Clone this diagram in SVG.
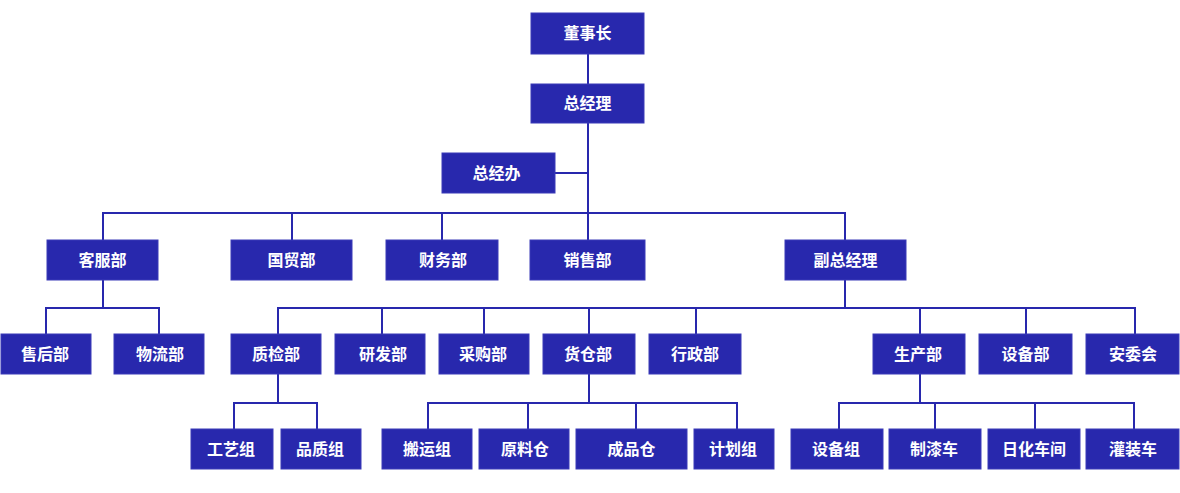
<svg xmlns="http://www.w3.org/2000/svg" width="1180" height="493" viewBox="0 0 1180 493">
<style>
.n rect{fill:#2828ad;stroke:#3a3ab8;stroke-width:1}
.n text{fill:#fff;font-family:"Noto Sans CJK SC","Noto Sans",sans-serif;font-size:16px;font-weight:600;text-anchor:middle;dominant-baseline:central}
#connectors path{fill:none;stroke:#2828ad;stroke-width:2}
</style>
<rect width="1180" height="493" fill="#fff"/>
<g id="connectors">
<path d="M588 54V84"/>
<path d="M588 123V213"/>
<path d="M555 173H588"/>
<path d="M103 240V213H845V240"/>
<path d="M292 213V240M442 213V240M588 213V240"/>
<path d="M103 280V308"/>
<path d="M46 334V308H159V334"/>
<path d="M845 280V308"/>
<path d="M278 334V308H1135V334"/>
<path d="M382 308V334M484 308V334M589 308V334M696 308V334M920 308V334M1026 308V334"/>
<path d="M278 374V403"/>
<path d="M234 429V403H317V429"/>
<path d="M589 374V403"/>
<path d="M428 429V403H737V429"/>
<path d="M528 403V429M636 403V429"/>
<path d="M920 374V403"/>
<path d="M839 429V403H1134V429"/>
<path d="M935 403V429M1035 403V429"/>
</g>
<g id="n-dsz" class="n"><rect x="531" y="13" width="113" height="41"/><text x="587.5" y="31.5">董事长</text></g>
<g id="n-zjl" class="n"><rect x="531" y="84" width="113" height="39"/><text x="587.5" y="102">总经理</text></g>
<g id="n-zjb" class="n"><rect x="442" y="153" width="113" height="40"/><text x="496.5" y="171.5">总经办</text></g>
<g id="n-kfb" class="n"><rect x="47" y="240" width="111" height="40"/><text x="102.5" y="258.5">客服部</text></g>
<g id="n-gmb" class="n"><rect x="231" y="240" width="121" height="40"/><text x="291.5" y="258.5">国贸部</text></g>
<g id="n-cwb" class="n"><rect x="386" y="240" width="112" height="40"/><text x="443" y="258.5">财务部</text></g>
<g id="n-xsb" class="n"><rect x="530" y="240" width="115" height="40"/><text x="587.5" y="258.5">销售部</text></g>
<g id="n-fzjl" class="n"><rect x="785" y="240" width="121" height="40"/><text x="845.5" y="258.5">副总经理</text></g>
<g id="n-shb" class="n"><rect x="1" y="334" width="90" height="40"/><text x="45" y="352.5">售后部</text></g>
<g id="n-wlb" class="n"><rect x="114" y="334" width="90" height="40"/><text x="160" y="352.5">物流部</text></g>
<g id="n-zjb2" class="n"><rect x="231" y="334" width="90" height="40"/><text x="276" y="352.5">质检部</text></g>
<g id="n-yfb" class="n"><rect x="335" y="334" width="90" height="40"/><text x="383" y="352.5">研发部</text></g>
<g id="n-cgb" class="n"><rect x="439" y="334" width="90" height="40"/><text x="483" y="352.5">采购部</text></g>
<g id="n-hcb" class="n"><rect x="543" y="334" width="92" height="40"/><text x="588" y="352.5">货仓部</text></g>
<g id="n-xzb" class="n"><rect x="649" y="334" width="92" height="40"/><text x="695" y="352.5">行政部</text></g>
<g id="n-scb" class="n"><rect x="873" y="334" width="92" height="40"/><text x="918" y="352.5">生产部</text></g>
<g id="n-sbb" class="n"><rect x="979" y="334" width="93" height="40"/><text x="1025.5" y="352.5">设备部</text></g>
<g id="n-awh" class="n"><rect x="1086" y="334" width="93" height="40"/><text x="1133" y="352.5">安委会</text></g>
<g id="n-gyz" class="n"><rect x="191" y="429" width="82" height="40"/><text x="231" y="447.5">工艺组</text></g>
<g id="n-pzz" class="n"><rect x="281" y="429" width="80" height="40"/><text x="320" y="447.5">品质组</text></g>
<g id="n-byz" class="n"><rect x="382" y="429" width="90" height="40"/><text x="427" y="447.5">搬运组</text></g>
<g id="n-ylc" class="n"><rect x="479" y="429" width="90" height="40"/><text x="525" y="447.5">原料仓</text></g>
<g id="n-cpc" class="n"><rect x="576" y="429" width="111" height="40"/><text x="631.5" y="447.5">成品仓</text></g>
<g id="n-jhz" class="n"><rect x="694" y="429" width="80" height="40"/><text x="733" y="447.5">计划组</text></g>
<g id="n-sbz" class="n"><rect x="791" y="429" width="92" height="40"/><text x="836" y="447.5">设备组</text></g>
<g id="n-zqc" class="n"><rect x="889" y="429" width="92" height="40"/><text x="934" y="447.5">制漆车</text></g>
<g id="n-rhcj" class="n"><rect x="988" y="429" width="92" height="40"/><text x="1034" y="447.5">日化车间</text></g>
<g id="n-gzc" class="n"><rect x="1086" y="429" width="93" height="40"/><text x="1133" y="447.5">灌装车</text></g>
</svg>
